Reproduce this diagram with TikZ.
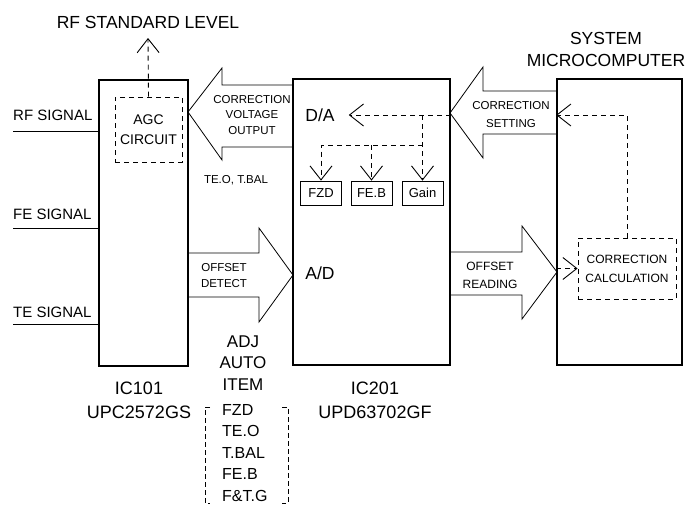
\documentclass[tikz,border=0pt]{standalone}
\usepackage{fontspec}
\setmainfont{Liberation Sans}
\usetikzlibrary{arrows.meta}

\begin{document}
\begin{tikzpicture}[x=1pt, y=-1pt,
    chip/.style={draw, line width=1.6pt, inner sep=0pt},
    dbox/.style={draw, line width=0.9pt, dash pattern=on 5pt off 4pt},
    dflow/.style={line width=0.9pt, dash pattern=on 5pt off 4pt, arrows={-Straight Barb[length=14pt, width=22pt]}},
    reg/.style={draw, line width=0.8pt, minimum width=41pt, minimum height=24pt, inner sep=0pt, font=\fontsize{13}{13}\selectfont},
    fat/.style={line width=0.8pt, line join=miter},
    lbl/.style={inner sep=0pt, font=\fontsize{15}{17}\selectfont},
    small/.style={inner sep=0pt, align=center, font=\fontsize{11.5}{15.5}\selectfont},
    big/.style={inner sep=0pt, align=center, font=\fontsize{17.5}{22}\selectfont}]
  \useasboundingbox (0,0) rectangle (688,506);

  % the three chips
  \node[chip, minimum width=89pt, minimum height=286pt] (ic101) at (143.5,223) {};
  \node[chip, minimum width=157pt, minimum height=286pt] (ic201) at (371.5,222) {};
  \node[chip, minimum width=125pt, minimum height=286pt] (micro) at (619.5,222) {};

  % IC101 side
  \node[dbox, minimum width=67pt, minimum height=65pt, align=center, inner sep=0pt,
        font=\fontsize{14}{20}\selectfont] (agc) at (148.5,129.5) {AGC\\CIRCUIT};
  \node[big] (rflevel) at (148,22) {RF STANDARD LEVEL};
  \draw[dflow] (agc.north) -- (rflevel.south |- 0,38);

  \coordinate (rfin) at (13,131);
  \coordinate (fein) at (13,228);
  \coordinate (tein) at (13,324);
  \node[lbl, anchor=west] (rfsig) at (13,115) {RF SIGNAL};
  \node[lbl, anchor=west] (fesig) at (13,214) {FE SIGNAL};
  \node[lbl, anchor=west] (tesig) at (13,312) {TE SIGNAL};
  \draw[line width=1pt] (rfin) -- (rfin -| ic101.west);
  \draw[line width=1pt] (fein) -- (fein -| ic101.west);
  \draw[line width=1pt] (tein) -- (tein -| ic101.west);

  % wide arrows
  \draw[fat] (293,85) -- (222,85) -- (222,68) -- (188,112) -- (222,160) -- (222,147) -- (293,147);
  \node[small] (corrvolt) at (252,115) {CORRECTION\\VOLTAGE\\OUTPUT};
  \node[small] (teo) at (236,180) {TE.O, T.BAL};

  \draw[fat] (188,253) -- (259,253) -- (259,228) -- (293,275) -- (259,322) -- (259,297) -- (188,297);
  \node[small, font=\fontsize{11.5}{16}\selectfont] (offdet) at (224,276) {OFFSET\\DETECT};

  \draw[fat] (557,91) -- (483,91) -- (483,67) -- (450,113) -- (483,158) -- (483,134) -- (557,134);
  \node[small, font=\fontsize{11.5}{18}\selectfont] (corrset) at (511,115) {CORRECTION\\SETTING};

  \draw[fat] (450,252) -- (522,252) -- (522,226) -- (557,272) -- (522,319) -- (522,295) -- (450,295);
  \node[small, font=\fontsize{12}{18}\selectfont] (offread) at (490,275) {OFFSET\\READING};

  % IC201 inside
  \node[big] (da) at (320,115) {D/A};
  \node[big] (ad) at (320,273) {A/D};
  \node[reg] (fzd) at (321,193) {FZD};
  \node[reg] (feb) at (371.5,193) {FE.B};
  \node[reg] (gain) at (422.5,193) {Gain};
  \coordinate (split) at (gain.north |- 0,145);
  \draw[dflow, shorten >=14pt] (ic201.east |- da) -- (da.east);
  \draw[dflow] (gain.north |- da) -- (gain.north);
  \draw[dflow] (split) -| (fzd.north);
  \draw[dflow] (feb.north |- split) -- (feb.north);

  % microcomputer
  \node[big] (systxt) at (606,49) {SYSTEM\\MICROCOMPUTER};
  \node[dbox, minimum width=98pt, minimum height=61pt, align=center, inner sep=0pt,
        font=\fontsize{12}{19}\selectfont] (calc) at (627,268.5) {CORRECTION\\CALCULATION};
  \draw[dflow] (calc.north) |- (micro.west |- 0,115);
  \draw[dflow] (micro.west |- calc.west) -- (calc.west);

  % labels under the chips
  \node[big, font=\fontsize{18}{24}\selectfont] (ic101txt) at (139,400) {IC101\\UPC2572GS};
  \node[big, font=\fontsize{18}{24}\selectfont] (ic201txt) at (375,400) {IC201\\UPD63702GF};
  \node[big, font=\fontsize{17}{21.5}\selectfont] (adj) at (243,363) {ADJ\\AUTO\\ITEM};
  \node[inner sep=0pt, anchor=north west, align=left, font=\fontsize{16}{21.5}\selectfont]
    (items) at (222,404) {FZD\\TE.O\\T.BAL\\FE.B\\F\&T.G};
  \draw[line width=0.7pt, dash pattern=on 5pt off 3pt] (210,407) -- (205,407) -- (205,503) -- (210,503);
  \draw[line width=0.7pt, dash pattern=on 5pt off 3pt] (282,407) -- (288,407) -- (288,503) -- (282,503);
\end{tikzpicture}
\end{document}
